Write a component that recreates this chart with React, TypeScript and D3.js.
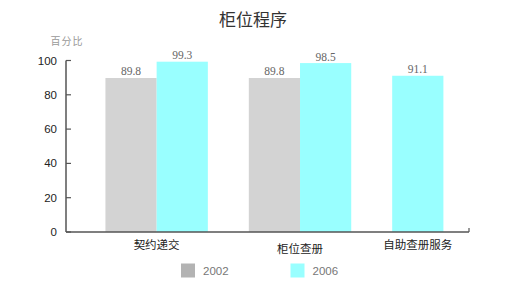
import React from "react";
import * as d3 from "d3";

const categories = ["契约递交", "柜位查册", "自助查册服务"];
const seriesNames = ["2002", "2006"];
const values2002: (number | null)[] = [89.8, 89.8, null];
const values2006: (number | null)[] = [99.3, 98.5, 91.1];
const yTicks = [0, 20, 40, 60, 80, 100];

const W = 506, H = 300;
const plotL = 66, plotR = 469, plotT = 60.5, plotB = 232;
const barColors = ["#d3d3d3", "#99ffff"];
const legendColors = ["#b3b3b3", "#99ffff"];

export default function App() {
  const seriesVals = [values2002, values2006];
  const y = d3.scaleLinear().domain([0, 100]).range([plotB, plotT]);

  // packed layout: each category occupies as many slots as it has bars
  const padLeft = 0.77, gap = 0.8, padRight = 0.5;
  const counts = categories.map((_, i) => seriesVals.filter((s) => s[i] != null).length);
  const starts: number[] = [];
  let acc = padLeft;
  counts.forEach((c, i) => {
    starts.push(acc);
    acc += c + (i < counts.length - 1 ? gap : 0);
  });
  const total = acc + padRight;
  const x = d3.scaleLinear().domain([0, total]).range([plotL, plotR]);
  const bw = x(1) - x(0);

  const bars: { x: number; v: number; s: number }[] = [];
  categories.forEach((_, i) => {
    let k = 0;
    seriesVals.forEach((s, si) => {
      const v = s[i];
      if (v != null) {
        bars.push({ x: x(starts[i] + k), v, s: si });
        k++;
      }
    });
  });
  const catCenters = categories.map((_, i) => x(starts[i] + counts[i] / 2));

  return (
    <svg width={W} height={H} style={{ position: "absolute", left: 0, top: 0, background: "#fff" }}
      fontFamily="'Liberation Sans', Arial, sans-serif">
      <text x={253} y={25.5} textAnchor="middle" fontSize={17} fill="#333"
        fontFamily="'Noto Sans CJK SC', sans-serif">柜位程序</text>
      <text x={67} y={45} textAnchor="middle" fontSize={10} fill="#999" letterSpacing={1}
        fontFamily="'Noto Sans CJK SC', sans-serif">百分比</text>

      {bars.map((b, i) => (
        <g key={i}>
          <rect x={b.x} y={y(b.v)} width={bw} height={plotB - y(b.v)} fill={barColors[b.s]} />
          <text x={b.x + bw / 2} y={y(b.v) - 2.5} textAnchor="middle" fontSize={11.5}
            fill="#666" fontFamily="'Liberation Serif', 'Times New Roman', serif">{b.v.toFixed(1)}</text>
        </g>
      ))}

      {/* y axis */}
      <line x1={plotL} x2={plotL} y1={y(100)} y2={plotB} stroke="#555" strokeWidth={1.5} />
      {yTicks.map((t) => (
        <g key={t}>
          <line x1={plotL} x2={plotL + 5} y1={y(t)} y2={y(t)} stroke="#555" strokeWidth={1.2} />
          <text x={57} y={y(t) + 4} textAnchor="end" fontSize={11.5} fill="#222">{t}</text>
        </g>
      ))}
      {/* x axis */}
      <line x1={plotL} x2={plotR} y1={plotB} y2={plotB} stroke="#555" strokeWidth={1.5} />
      <line x1={plotR} x2={plotR} y1={plotB} y2={plotB - 4} stroke="#555" strokeWidth={1.2} />

      {categories.map((c, i) => (
        <text key={c} x={catCenters[i]} y={i === 1 ? 253 : 249} textAnchor="middle" fontSize={11.5}
          fill="#222" fontFamily="'Noto Sans CJK SC', sans-serif">{c}</text>
      ))}

      {seriesNames.map((s, i) => (
        <g key={s} transform={`translate(${181 + i * 109.5},263.5)`}>
          <rect width={14} height={14} fill={legendColors[i]} />
          <text x={22} y={11.5} fontSize={11.5} fill="#777">{s}</text>
        </g>
      ))}
    </svg>
  );
}
